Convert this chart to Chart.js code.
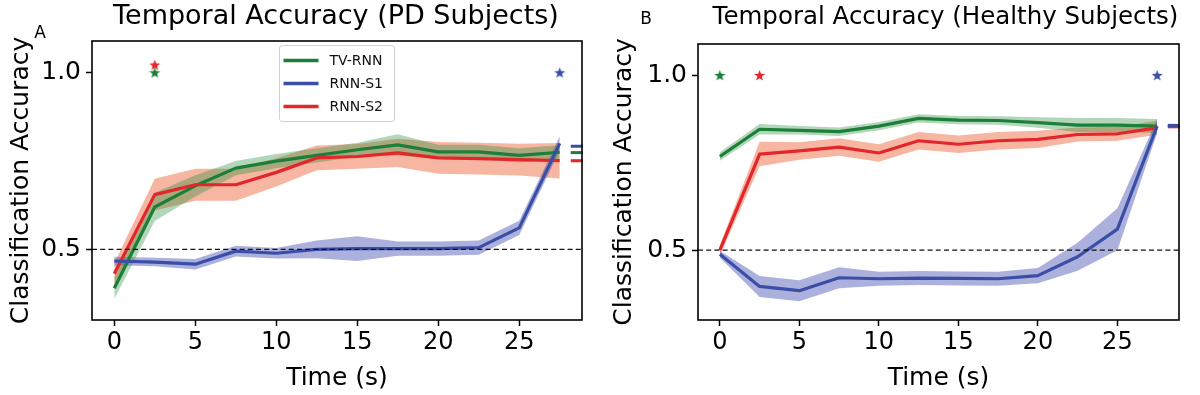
<!DOCTYPE html>
<html>
<head>
<meta charset="utf-8">
<script src="https://cdn.jsdelivr.net/npm/chart.js@4.4.1/dist/chart.umd.min.js"></script>
<style>
  html, body { margin: 0; padding: 0; background: #fff; }
  .row { display: flex; width: 1200px; height: 395px; }
  .cell { position: relative; width: 600px; height: 395px; }
</style>
</head>
<body>
<div class="row">
  <div class="cell"><canvas id="chartA"></canvas></div>
  <div class="cell"><canvas id="chartB"></canvas></div>
</div>
<script>
// time axis and ticks
const timeSteps = [0, 2.5, 5, 7.5, 10, 12.5, 15, 17.5, 20, 22.5, 25, 27.5];
const xTicks = [0, 5, 10, 15, 20, 25];
const yTicks = [0.5, 1.0];
const seriesNames = ["TV-RNN", "RNN-S1", "RNN-S2"];
const chanceLevel = 0.5;

// PD subjects (panel A): mean and spread
const pdTvRnn = [0.39, 0.62, 0.68, 0.73, 0.75, 0.766, 0.782, 0.796, 0.776, 0.776, 0.766, 0.775];
const pdTvRnnSd = [0.03, 0.04, 0.03, 0.02, 0.02, 0.02, 0.02, 0.03, 0.02, 0.02, 0.02, 0.02];
const pdS1 = [0.467, 0.464, 0.458, 0.495, 0.489, 0.5, 0.502, 0.502, 0.502, 0.505, 0.561, 0.8];
const pdS1Sd = [0.012, 0.012, 0.015, 0.015, 0.015, 0.025, 0.035, 0.02, 0.02, 0.02, 0.02, 0.02];
const pdS2 = [0.431, 0.655, 0.683, 0.683, 0.718, 0.759, 0.763, 0.773, 0.759, 0.757, 0.754, 0.751];
const pdS2Sd = [0.03, 0.045, 0.045, 0.045, 0.04, 0.035, 0.035, 0.04, 0.045, 0.045, 0.045, 0.05];
const pdFinal = [0.774, 0.792, 0.751];
const pdStarX = [2.5, 27.5, 2.5];
const pdStarY = [1.0, 1.0, 1.022];

// Healthy subjects (panel B)
const hcTvRnn = [0.768, 0.846, 0.843, 0.839, 0.855, 0.877, 0.872, 0.871, 0.865, 0.858, 0.858, 0.855];
const hcTvRnnSd = [0.012, 0.015, 0.012, 0.012, 0.012, 0.012, 0.012, 0.012, 0.015, 0.02, 0.02, 0.02];
const hcS1 = [0.488, 0.396, 0.384, 0.421, 0.418, 0.42, 0.419, 0.418, 0.427, 0.481, 0.56, 0.855];
const hcS1Sd = [0.01, 0.03, 0.03, 0.03, 0.02, 0.02, 0.02, 0.02, 0.022, 0.04, 0.06, 0.02];
const hcS2 = [0.5, 0.775, 0.784, 0.795, 0.778, 0.813, 0.803, 0.813, 0.817, 0.831, 0.833, 0.85];
const hcS2Sd = [0.015, 0.035, 0.025, 0.025, 0.025, 0.025, 0.025, 0.025, 0.025, 0.02, 0.02, 0.02];
const hcFinal = [0.855, 0.857, 0.853];
const hcStarX = [0, 27.5, 2.5];
const hcStarY = [1.0, 1.0, 1.0];

const finalMarkX = 28.55;

const FONT = "'DejaVu Sans', sans-serif";
const lineColors = ["#1c7f39", "#3a4ea6", "#e3262b"];
const bandColors = ["rgba(40,140,60,0.36)", "rgba(70,80,180,0.45)", "rgba(240,110,70,0.5)"];
const lineOrder = [3, 1, 2]; // blue on top, then red, then green

function starImage(color) {
  const c = document.createElement("canvas");
  c.width = 13; c.height = 13;
  const g = c.getContext("2d");
  g.fillStyle = color;
  g.beginPath();
  for (let i = 0; i < 10; i++) {
    const r = i % 2 === 0 ? 5.8 : 2.4;
    const a = -Math.PI / 2 + i * Math.PI / 5;
    g.lineTo(6.5 + r * Math.cos(a), 6.8 + r * Math.sin(a));
  }
  g.closePath();
  g.fill();
  return c;
}

function buildDatasets(means, sds, finals, starX, starY) {
  const ds = [];
  means.forEach((m, k) => {
    ds.push({
      data: timeSteps.map((t, i) => ({ x: t, y: m[i] - sds[k][i] })),
      borderWidth: 0, pointRadius: 0, fill: false, order: 10
    });
    ds.push({
      data: timeSteps.map((t, i) => ({ x: t, y: m[i] + sds[k][i] })),
      borderWidth: 0, pointRadius: 0, fill: "-1",
      backgroundColor: bandColors[k], order: 10
    });
  });
  means.forEach((m, k) => {
    ds.push({
      label: seriesNames[k],
      data: timeSteps.map((t, i) => ({ x: t, y: m[i] })),
      borderColor: lineColors[k], borderWidth: 3.2, pointRadius: 0,
      tension: 0, fill: false, borderJoinStyle: "round", order: lineOrder[k]
    });
  });
  means.forEach((m, k) => {
    ds.push({
      data: [{ x: starX[k], y: starY[k] }],
      showLine: false, pointStyle: starImage(lineColors[k]),
      pointRadius: 6, order: 0, clip: false
    });
    ds.push({
      data: [{ x: finalMarkX, y: finals[k] }],
      showLine: false, pointStyle: "line", pointRadius: 6,
      borderColor: lineColors[k], pointBorderWidth: 3, order: lineOrder[k], clip: false
    });
  });
  return ds;
}

const decorPlugin = {
  id: "decor",
  afterDatasetsDraw(chart, args, opts) {
    const { ctx, chartArea } = chart;
    const y = chart.scales.y.getPixelForValue(chanceLevel);
    ctx.save();
    ctx.strokeStyle = "#111";
    ctx.lineWidth = 1.3;
    ctx.setLineDash([5, 3.2]);
    ctx.beginPath();
    ctx.moveTo(chartArea.left, y);
    ctx.lineTo(chartArea.right, y);
    ctx.stroke();
    ctx.restore();
  },
  afterDraw(chart, args, opts) {
    const { ctx, chartArea } = chart;
    ctx.save();
    // frame
    ctx.strokeStyle = "#000";
    ctx.lineWidth = 1.6;
    ctx.strokeRect(chartArea.left, chartArea.top, chartArea.right - chartArea.left, chartArea.bottom - chartArea.top);
    // title
    ctx.fillStyle = "#000";
    ctx.font = opts.titleSize + "px " + FONT;
    ctx.textAlign = "center";
    ctx.textBaseline = "middle";
    ctx.fillText(opts.title, (chartArea.left + chartArea.right) / 2 + opts.titleShift, opts.titleY);
    // panel letter
    ctx.font = "17px " + FONT;
    ctx.fillText(opts.letter, opts.letterX, opts.letterY);
    // legend
    if (opts.legend) {
      const lx = chart.scales.x.getPixelForValue(opts.legendAt[0]);
      const ly = chart.scales.y.getPixelForValue(opts.legendAt[1]);
      const w = 115, h = 76;
      ctx.fillStyle = "rgba(255,255,255,0.85)";
      ctx.strokeStyle = "#d0d0d0";
      ctx.lineWidth = 1;
      ctx.beginPath();
      ctx.roundRect(lx, ly, w, h, 3);
      ctx.fill();
      ctx.stroke();
      ctx.font = "14px " + FONT;
      ctx.textAlign = "left";
      seriesNames.forEach((name, k) => {
        const yy = ly + 15 + k * 23;
        ctx.strokeStyle = lineColors[k];
        ctx.lineWidth = 3.5;
        ctx.beginPath();
        ctx.moveTo(lx + 4, yy);
        ctx.lineTo(lx + 39, yy);
        ctx.stroke();
        ctx.fillStyle = "#111";
        ctx.fillText(name, lx + 50, yy + 1);
      });
    }
    ctx.restore();
  }
};

function makeChart(id, datasets, yWidth, titlePad, pad, decor) {
  return new Chart(document.getElementById(id), {
    type: "line",
    data: { datasets: datasets },
    options: {
      responsive: true,
      maintainAspectRatio: false,
      animation: false,
      layout: { padding: pad },
      plugins: {
        legend: { display: false },
        tooltip: { enabled: false },
        filler: { drawTime: "beforeDatasetsDraw" },
        decor: decor
      },
      scales: {
        x: {
          type: "linear", min: -1.375, max: 28.875,
          afterBuildTicks: (s) => { s.ticks = xTicks.map((v) => ({ value: v })); },
          afterFit: (s) => { s.height = 75; },
          grid: { drawOnChartArea: false, drawTicks: true, tickLength: 6, tickWidth: 1.5, tickColor: "#000" },
          border: { display: false },
          ticks: { color: "#000", font: { family: FONT, size: 24 }, padding: 2, maxRotation: 0 },
          title: { display: true, text: "Time (s)", color: "#000", font: { family: FONT, size: 25 }, padding: { top: 0, bottom: 2 } }
        },
        y: {
          type: "linear", min: 0.30, max: 1.09,
          afterBuildTicks: (s) => { s.ticks = yTicks.map((v) => ({ value: v })); },
          afterFit: (s) => { s.width = yWidth; },
          grid: { drawOnChartArea: false, drawTicks: true, tickLength: 6, tickWidth: 1.5, tickColor: "#000" },
          border: { display: false },
          ticks: { color: "#000", font: { family: FONT, size: 25 }, padding: 5, callback: (v) => v.toFixed(1) },
          title: { display: true, text: "Classification Accuracy", color: "#000", font: { family: FONT, size: 25 }, padding: { top: titlePad, bottom: 0 } }
        }
      }
    },
    plugins: [decorPlugin]
  });
}

makeChart("chartA",
  buildDatasets([pdTvRnn, pdS1, pdS2], [pdTvRnnSd, pdS1Sd, pdS2Sd], pdFinal, pdStarX, pdStarY),
  92, 6, { left: 0, top: 41, right: 18, bottom: 0 },
  { title: "Temporal Accuracy (PD Subjects)", titleSize: 27, titleShift: -1, titleY: 17, letter: "A", letterX: 40, letterY: 34, legend: true, legendAt: [10.2, 1.077] });

makeChart("chartB",
  buildDatasets([hcTvRnn, hcS1, hcS2], [hcTvRnnSd, hcS1Sd, hcS2Sd], hcFinal, hcStarX, hcStarY),
  98, 9, { left: 0, top: 44, right: 21, bottom: 0 },
  { title: "Temporal Accuracy (Healthy Subjects)", titleSize: 24.5, titleShift: 7, titleY: 18, letter: "B", letterX: 46, letterY: 20, legend: false });
</script>
</body>
</html>
